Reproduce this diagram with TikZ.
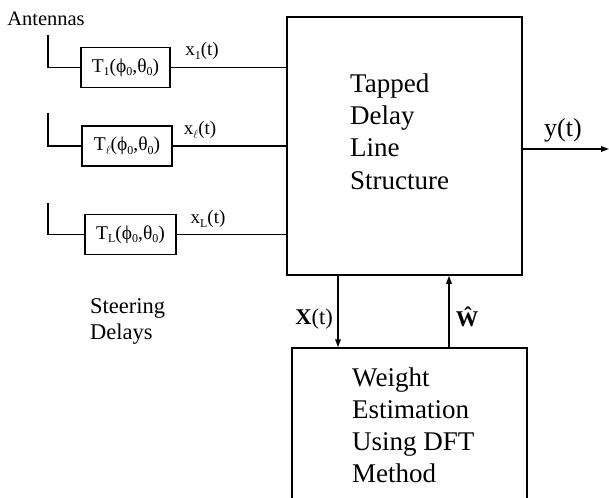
\documentclass[tikz,border=0pt]{standalone}
\usepackage{fontspec}
\setmainfont{Liberation Serif}
\usetikzlibrary{arrows.meta}
\newcommand\sbs[1]{\raisebox{-0.4ex}{\fontsize{12}{12}\selectfont #1}}
\tikzset{
  ln/.style={line width=1.5pt},
  arr/.style={line width=1.5pt,-{Triangle[length=8pt,width=5.5pt]}},
  bigbox/.style={draw,line width=1.5pt,minimum width=#1,inner sep=0pt},
  delaybox/.style={draw,line width=1.5pt,minimum width=90pt,minimum height=40pt,inner sep=0pt,font=\fontsize{19.5}{20}\selectfont},
  bigtxt/.style={anchor=base west,inner sep=0pt,font=\fontsize{27}{30}\selectfont},
  midtxt/.style={inner sep=0pt,font=\fontsize{22.5}{26}\selectfont},
  smalltxt/.style={inner sep=0pt,font=\fontsize{19}{20}\selectfont}
}
\begin{document}
\begin{tikzpicture}[x=1pt,y=-1pt]
\useasboundingbox (0,0) rectangle (609,497);
\clip (0,0) rectangle (609,497);
% main boxes
\node[bigbox=235pt,minimum height=258pt] (tdl) at (404.5,146) {};
\node[bigbox=235pt,minimum height=175pt] (wbox) at (409.5,435.5) {};
% TDL text
\node[bigtxt] (t1) at (350,93) {Tapped};
\node[bigtxt] (t2) at (350,125) {Delay};
\node[bigtxt] (t3) at (350,157) {Line};
\node[bigtxt] (t4) at (350,189) {Structure};
% weight text
\node[bigtxt] (w1) at (352,386) {Weight};
\node[bigtxt] (w2) at (352,418) {Estimation};
\node[bigtxt] (w3) at (352,450) {Using DFT};
\node[bigtxt] (w4) at (352,482) {Method};
% delay boxes
\node[delaybox,minimum width=89pt] (d1) at (125.5,67.5) {T\sbs{1}(ϕ\sbs{0},θ\sbs{0})};
\node[delaybox,minimum width=90pt] (d2) at (127,146) {T\sbs{$\ell$}(ϕ\sbs{0},θ\sbs{0})};
\node[delaybox,minimum width=91pt] (d3) at (130.5,234.5) {T\sbs{L}(ϕ\sbs{0},θ\sbs{0})};
% antenna tops
\coordinate (a1) at (48,35);
\coordinate (a2) at (48,113);
\coordinate (a3) at (48,203);
\draw[ln] (a1) |- (d1.west);
\draw[ln] (a2) |- (d2.west);
\draw[ln] (a3) |- (d3.west);
\draw[ln] (d1.east) -- (d1.east -| tdl.west);
\draw[ln] (d2.east) -- (d2.east -| tdl.west);
\draw[ln] (d3.east) -- (d3.east -| tdl.west);
% signal labels
\node[smalltxt] (x1) at (202,51) {x\sbs{1}(t)};
\node[smalltxt] (x2) at (200,130) {x\sbs{$\ell$}(t)};
\node[smalltxt] (x3) at (208,219) {x\sbs{L}(t)};
% output
\coordinate (yend) at (609,149);
\draw[arr] (tdl.east |- yend) -- (yend);
\node[midtxt,font=\fontsize{26}{28}\selectfont] (yl) at (563,130) {y(t)};
% feedback arrows
\coordinate (xa) at (338,0);
\coordinate (wa) at (449,0);
\draw[arr] (tdl.south -| xa) -- (wbox.north -| xa);
\draw[arr] (wbox.north -| wa) -- (tdl.south -| wa);
\node[midtxt] (xl) at (314,319) {\textbf{X}(t)};
\node[midtxt] (wl) at (467,317) {\textbf{Ŵ}};
% other labels
\node[smalltxt,font=\fontsize{20.5}{22}\selectfont] (ant) at (46,19) {Antennas};
\node[midtxt,anchor=base west] (s1) at (90,313) {Steering};
\node[midtxt,anchor=base west] (s2) at (90,339) {Delays};
\end{tikzpicture}
\end{document}
